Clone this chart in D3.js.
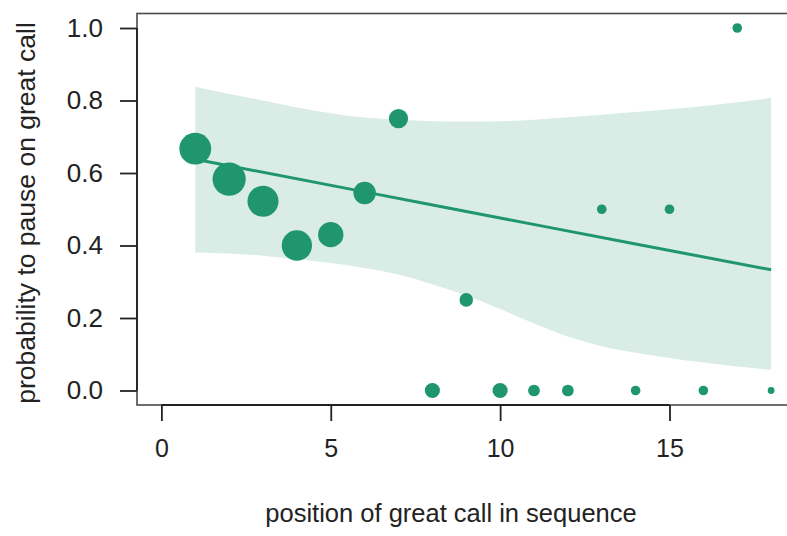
<!DOCTYPE html>
<html>
<head>
<meta charset="utf-8">
<script src="https://cdn.jsdelivr.net/npm/d3@7"></script>
<style>
  html, body { margin: 0; padding: 0; background: #ffffff; }
  svg { display: block; font-family: "Liberation Sans", Arial, Helvetica, sans-serif; }
</style>
</head>
<body>
<svg id="chart" width="787" height="536"></svg>
<script>
// Position of the great call within the sequence
const positions = [1, 2, 3, 4, 5, 6, 7, 8, 9, 10, 11, 12, 13, 14, 15, 16, 17, 18];
// Observed proportion of pauses on the great call at each position
const pauseProbability = [0.667, 0.583, 0.522, 0.40, 0.43, 0.545, 0.75, 0.0, 0.25, 0.0,
                          0.0, 0.0, 0.5, 0.0, 0.5, 0.0, 1.0, 0.0];
// Number of great calls observed at each position (drives symbol area)
const callCount = [22, 24, 21, 20, 14, 11, 8, 5, 4, 5, 3, 3, 2, 2, 2, 2, 2, 1];

// Fitted model prediction and its confidence band
const fitPositions = [1, 6, 10, 14, 18];
const fitProbability = [0.638, 0.548, 0.476, 0.404, 0.333];
const bandUpper = [0.838, 0.818, 0.800, 0.781, 0.765, 0.753, 0.747, 0.743, 0.742, 0.743,
                   0.747, 0.754, 0.761, 0.768, 0.776, 0.785, 0.795, 0.807];
const bandLower = [0.381, 0.378, 0.372, 0.362, 0.352, 0.338, 0.320, 0.293, 0.262, 0.225,
                   0.185, 0.149, 0.122, 0.104, 0.090, 0.077, 0.066, 0.057];

const xTicks = [0, 5, 10, 15];
const yTicks = [0.0, 0.2, 0.4, 0.6, 0.8, 1.0];

const green = "#20966f";
const bandFill = "#d9ece5";

const svg = d3.select("#chart");

const x = d3.scaleLinear().domain([-0.72, 18.72]).range([137, 795.5]);
const y = d3.scaleLinear().domain([-0.04, 1.04]).range([405, 13.5]);
const r = d3.scaleSqrt().domain([0, 24]).range([0, 16.6]);

// confidence band
const band = d3.area()
  .x((d, i) => x(positions[i]))
  .y0((d, i) => y(bandLower[i]))
  .y1((d, i) => y(bandUpper[i]))
  .curve(d3.curveMonotoneX);
svg.append("path")
  .datum(positions)
  .attr("d", band)
  .attr("fill", bandFill);

// fitted line
const fitLine = d3.line()
  .x((d, i) => x(fitPositions[i]))
  .y((d, i) => y(fitProbability[i]))
  .curve(d3.curveMonotoneX);
svg.append("path")
  .datum(fitPositions)
  .attr("d", fitLine)
  .attr("fill", "none")
  .attr("stroke", green)
  .attr("stroke-width", 3);

// observed proportions
svg.append("g")
  .selectAll("circle")
  .data(positions)
  .join("circle")
  .attr("cx", (d) => x(d))
  .attr("cy", (d, i) => y(pauseProbability[i]))
  .attr("r", (d, i) => r(callCount[i]))
  .attr("fill", green);

// plot box
svg.append("rect")
  .attr("x", x.range()[0])
  .attr("y", y.range()[1])
  .attr("width", x.range()[1] - x.range()[0])
  .attr("height", y.range()[0] - y.range()[1])
  .attr("fill", "none")
  .attr("stroke", "#4a4a4a")
  .attr("stroke-width", 1.6);

// axes
const xAxis = svg.append("g")
  .attr("transform", `translate(0,${y.range()[0]})`)
  .call(d3.axisBottom(x).tickValues(xTicks).tickFormat(d3.format("d")).tickSize(16).tickPadding(18).tickSizeOuter(0));
const yAxis = svg.append("g")
  .attr("transform", `translate(${x.range()[0]},0)`)
  .call(d3.axisLeft(y).tickValues(yTicks).tickFormat(d3.format(".1f")).tickSize(17).tickPadding(17).tickSizeOuter(0));

xAxis.select(".domain").attr("d", `M${x(xTicks[0])},0H${x(xTicks[xTicks.length - 1])}`);
yAxis.select(".domain").attr("d", `M0,${y(yTicks[0])}V${y(yTicks[yTicks.length - 1])}`);

[xAxis, yAxis].forEach((g) => {
  g.attr("font-family", null).attr("font-size", null);
  g.selectAll("line, .domain").attr("stroke", "#222").attr("stroke-width", 1.8);
  g.selectAll("text").attr("fill", "#222");
});
xAxis.selectAll("text").style("font-size", "25px");
yAxis.selectAll("text").style("font-size", "26px");

// axis titles
svg.append("text")
  .attr("x", 451)
  .attr("y", 522)
  .attr("text-anchor", "middle")
  .attr("fill", "#222")
  .style("font-size", "25.5px")
  .text("position of great call in sequence");

svg.append("text")
  .attr("transform", "translate(35,213) rotate(-90)")
  .attr("text-anchor", "middle")
  .attr("fill", "#222")
  .style("font-size", "26.5px")
  .text("probability to pause on great call");
</script>
</body>
</html>
